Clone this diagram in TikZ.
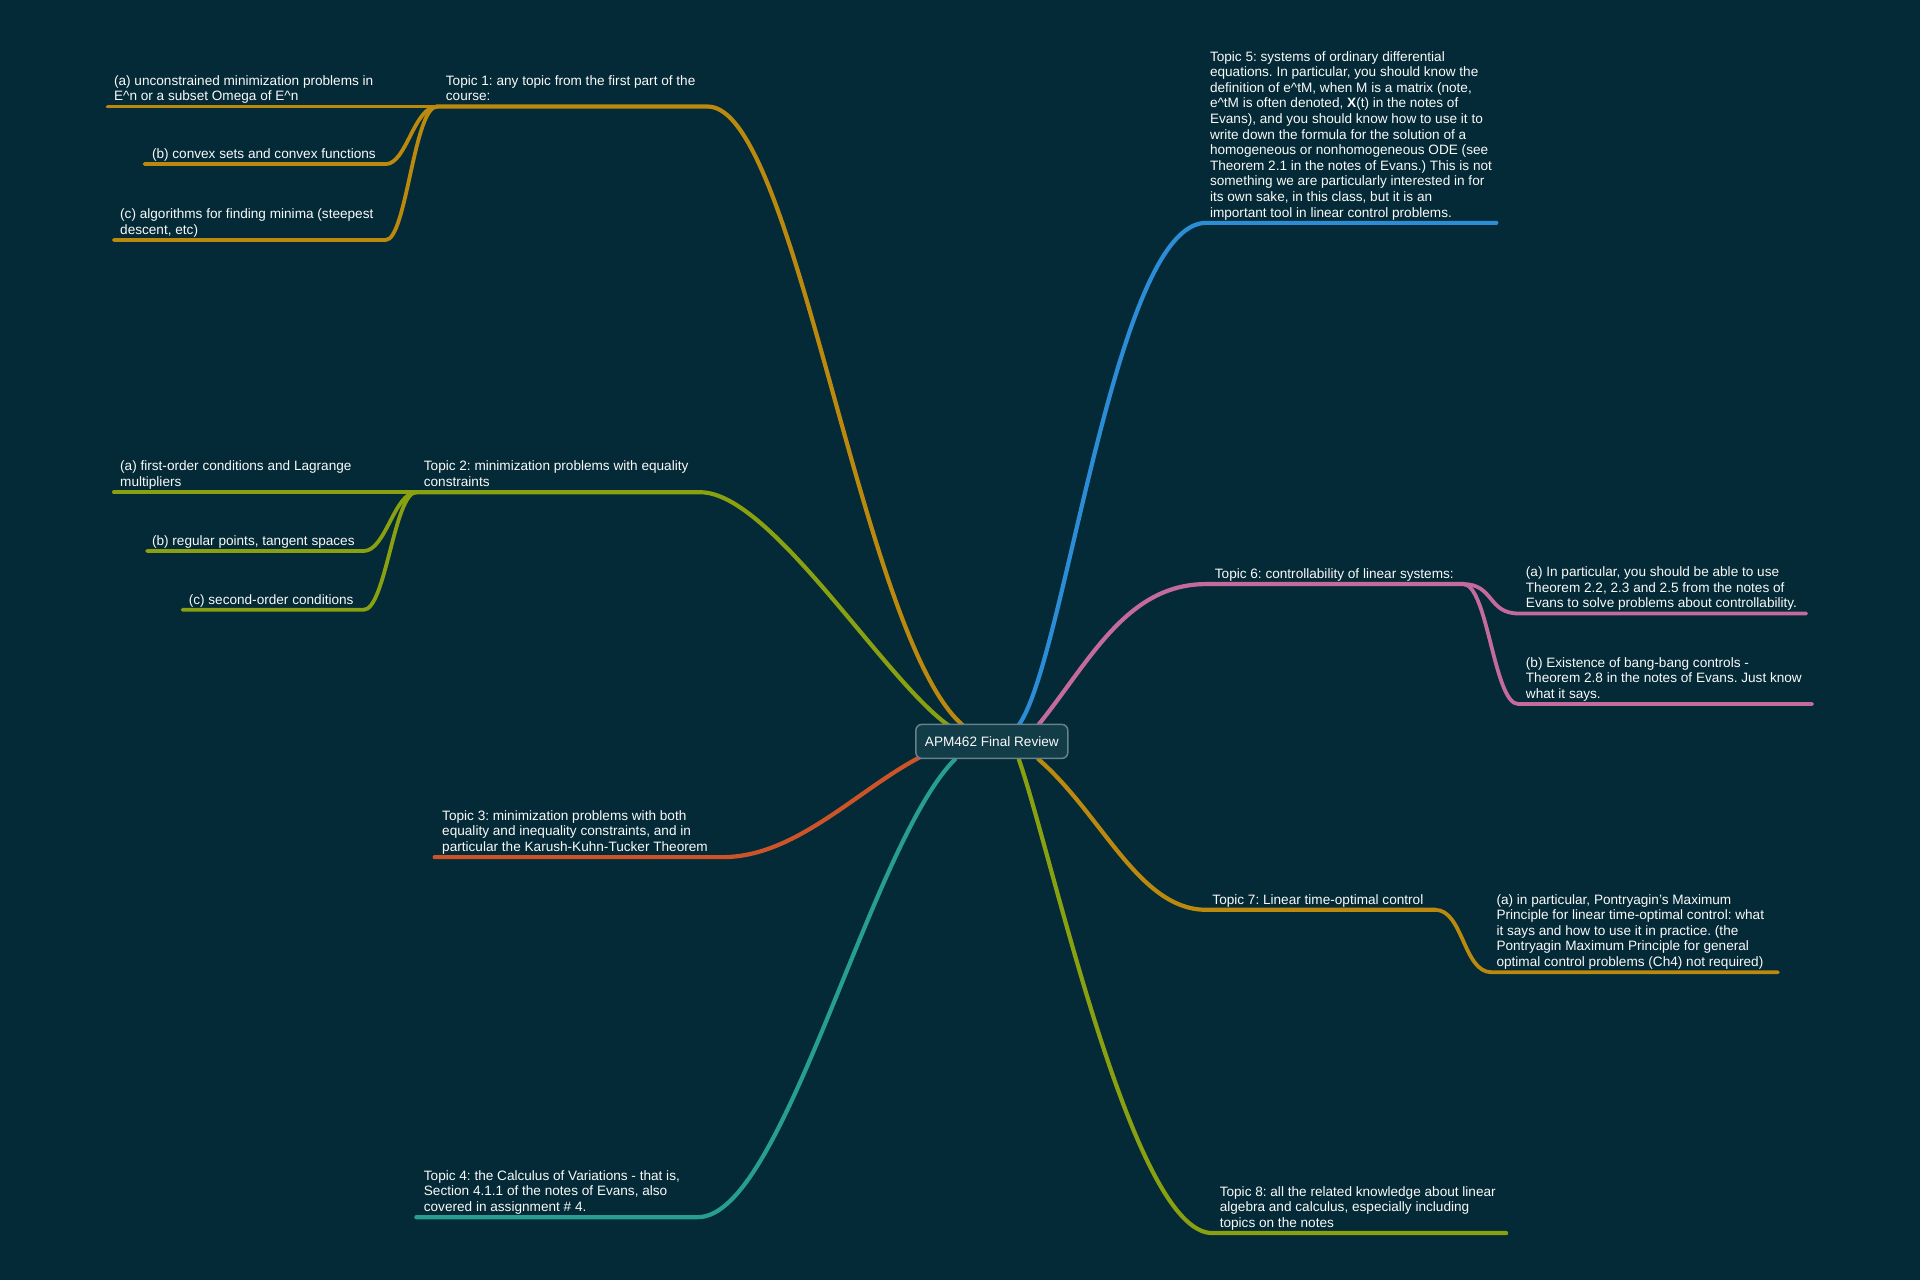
\documentclass[tikz,border=0pt]{standalone}
\usepackage{fontspec}
\setmainfont{Liberation Sans}
\definecolor{bg}{RGB}{3,42,54}
\definecolor{cgold}{RGB}{186,137,14}
\definecolor{colive}{RGB}{137,160,16}
\definecolor{cred}{RGB}{204,84,40}
\definecolor{cteal}{RGB}{40,157,145}
\definecolor{cblue}{RGB}{44,140,214}
\definecolor{cpink}{RGB}{196,106,156}
\definecolor{txt}{RGB}{250,250,250}
\definecolor{rootfill}{RGB}{18,60,72}
\definecolor{rootdraw}{RGB}{100,130,138}
\frenchspacing
\begin{document}
\begin{tikzpicture}[x=1.2245pt,y=-1.2245pt,
  lbl/.style={anchor=south west, inner sep=0pt, align=left, text=txt,
    font=\fontsize{13.6}{15.6}\selectfont\frenchspacing, execute at end node=\strut, yshift=0.8pt},
  br/.style={line width=4.2pt, line cap=round},
  sub/.style={line width=3.8pt, line cap=round},
  rootbox/.style={draw=rootdraw, fill=rootfill, rounded corners=6pt, line width=1.5pt,
    minimum width=152pt, minimum height=34pt, text=txt, font=\fontsize{13.6}{15.6}\selectfont}]
\fill[bg] (0,0) rectangle (1568,1045);

% coordinates at the central box
\coordinate (c1) at (786,592);
\coordinate (c2) at (777,594);
\coordinate (c3) at (752,618);
\coordinate (c4) at (780,620);
\coordinate (c5) at (832,592);
\coordinate (c6) at (848,592);
\coordinate (c7) at (848,620);
\coordinate (c8) at (832,620);

% ---------- Topic 1 ----------
\coordinate (t1b) at (357,87);
\coordinate (t1e) at (578,87);
\coordinate (t1a0) at (88,87);
\coordinate (t1bk) at (315,134);
\coordinate (t1b0) at (118,134);
\coordinate (t1ck) at (315,196);
\coordinate (t1c0) at (93,196);
\draw[br,cgold] (c1) .. controls (703,520) and (650,87) .. (t1e) -- (t1b);
\draw[sub,cgold] (t1b) -- (t1a0);
\draw[sub,cgold] (t1b) .. controls (338,87) and (332,134) .. (t1bk) -- (t1b0);
\draw[sub,cgold] (t1b) .. controls (338,87) and (332,196) .. (t1ck) -- (t1c0);
\node[lbl] (t1) at (364,87) {Topic 1: any topic from the first part of the\\course:};
\node[lbl] (t1a) at (93,87) {(a) unconstrained minimization problems in\\E\textasciicircum{}n or a subset Omega of E\textasciicircum{}n};
\node[lbl] (t1bt) at (124,134) {(b) convex sets and convex functions};
\node[lbl] (t1ct) at (98,196) {(c) algorithms for finding minima (steepest\\descent, etc)};

% ---------- Topic 2 ----------
\coordinate (t2b) at (340,402);
\coordinate (t2e) at (572,402);
\coordinate (t2a0) at (93,402);
\coordinate (t2bk) at (297,450);
\coordinate (t2b0) at (120,450);
\coordinate (t2ck) at (297,498);
\coordinate (t2c0) at (149,498);
\draw[br,colive] (c2) .. controls (725,560) and (630,402) .. (t2e) -- (t2b);
\draw[sub,colive] (t2b) -- (t2a0);
\draw[sub,colive] (t2b) .. controls (322,402) and (315,450) .. (t2bk) -- (t2b0);
\draw[sub,colive] (t2b) .. controls (322,402) and (315,498) .. (t2ck) -- (t2c0);
\node[lbl] (t2) at (346,402) {Topic 2: minimization problems with equality\\constraints};
\node[lbl] (t2a) at (98,402) {(a) first-order conditions and Lagrange\\multipliers};
\node[lbl] (t2bt) at (124,450) {(b) regular points, tangent spaces};
\node[lbl] (t2ct) at (154,498) {(c) second-order conditions};

% ---------- Topic 3 ----------
\coordinate (t3e) at (590,700);
\coordinate (t3b) at (355,700);
\draw[br,cred] (c3) .. controls (700,645) and (650,700) .. (t3e) -- (t3b);
\node[lbl] (t3) at (361,700) {Topic 3: minimization problems with both\\equality and inequality constraints, and in\\particular the Karush-Kuhn-Tucker Theorem};

% ---------- Topic 4 ----------
\coordinate (t4e) at (570,994);
\coordinate (t4b) at (340,994);
\draw[br,cteal] (c4) .. controls (710,690) and (640,994) .. (t4e) -- (t4b);
\node[lbl] (t4) at (346,994) {Topic 4: the Calculus of Variations - that is,\\Section 4.1.1 of the notes of Evans, also\\covered in assignment \# 4.};

% ---------- Topic 5 ----------
\coordinate (t5s) at (985,182);
\coordinate (t5e) at (1222,182);
\draw[br,cblue] (c5) .. controls (870,540) and (910,182) .. (t5s) -- (t5e);
\node[lbl] (t5) at (988,182) {Topic 5: systems of ordinary differential\\equations. In particular, you should know the\\definition of e\textasciicircum{}tM, when M is a matrix (note,\\e\textasciicircum{}tM is often denoted, \textbf{X}(t) in the notes of\\Evans), and you should know how to use it to\\write down the formula for the solution of a\\homogeneous or nonhomogeneous ODE (see\\Theorem 2.1 in the notes of Evans.) This is not\\something we are particularly interested in for\\its own sake, in this class, but it is an\\important tool in linear control problems.};

% ---------- Topic 6 ----------
\coordinate (t6s) at (985,477);
\coordinate (t6k) at (1195,477);
\coordinate (t6a0) at (1240,501);
\coordinate (t6a1) at (1475,501);
\coordinate (t6b0) at (1240,575);
\coordinate (t6b1) at (1480,575);
\draw[br,cpink] (c6) .. controls (890,540) and (920,477) .. (t6s) -- (t6k);
\draw[sub,cpink] (t6k) .. controls (1220,477) and (1215,501) .. (t6a0) -- (t6a1);
\draw[sub,cpink] (t6k) .. controls (1215,477) and (1220,575) .. (t6b0) -- (t6b1);
\node[lbl] (t6) at (992,477) {Topic 6: controllability of linear systems:};
\node[lbl] (t6a) at (1246,501) {(a) In particular, you should be able to use\\Theorem 2.2, 2.3 and 2.5 from the notes of\\Evans to solve problems about controllability.};
\node[lbl] (t6bt) at (1246,575) {(b) Existence of bang-bang controls -\\Theorem 2.8 in the notes of Evans. Just know\\what it says.};

% ---------- Topic 7 ----------
\coordinate (t7s) at (985,743);
\coordinate (t7k) at (1172,743);
\coordinate (t7a0) at (1218,794);
\coordinate (t7a1) at (1452,794);
\draw[br,cgold] (c7) .. controls (900,665) and (930,743) .. (t7s) -- (t7k);
\draw[sub,cgold] (t7k) .. controls (1195,743) and (1195,794) .. (t7a0) -- (t7a1);
\node[lbl] (t7) at (990,743) {Topic 7: Linear time-optimal control};
\node[lbl] (t7a) at (1222,794) {(a) in particular, Pontryagin’s Maximum\\Principle for linear time-optimal control: what\\it says and how to use it in practice. (the\\Pontryagin Maximum Principle for general\\optimal control problems (Ch4) not required)};

% ---------- Topic 8 ----------
\coordinate (t8s) at (990,1007);
\coordinate (t8e) at (1230,1007);
\draw[br,colive] (c8) .. controls (860,700) and (925,1007) .. (t8s) -- (t8e);
\node[lbl] (t8) at (996,1007) {Topic 8: all the related knowledge about linear\\algebra and calculus, especially including\\topics on the notes};

% ---------- Root ----------
\node[rootbox] (root) at (810,605.5) {APM462 Final Review};
\end{tikzpicture}
\end{document}
